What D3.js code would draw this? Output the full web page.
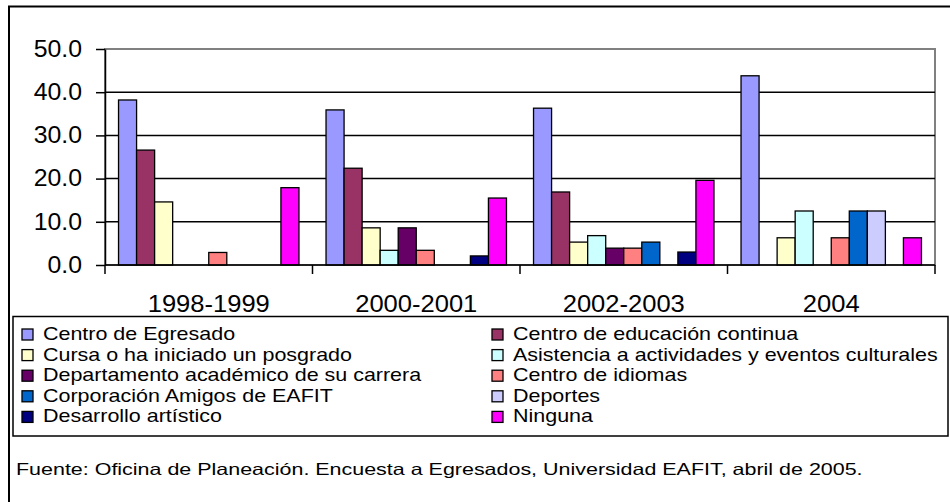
<!DOCTYPE html>
<html>
<head>
<meta charset="utf-8">
<script src="https://cdn.jsdelivr.net/npm/d3@7"></script>
<style>
  body { margin: 0; background: #fff; }
  svg { display: block; font-family: "Liberation Sans", Arial, sans-serif; }
</style>
</head>
<body>
<script>
// datos
const periodos = ['1998-1999', '2000-2001', '2002-2003', '2004']
const series = [
  'Centro de Egresado', 'Centro de educación continua',
  'Cursa o ha iniciado un posgrado', 'Asistencia a actividades y eventos culturales',
  'Departamento académico de su carrera', 'Centro de idiomas',
  'Corporación Amigos de EAFIT', 'Deportes',
  'Desarrollo artístico', 'Ninguna'
]
const colores = ['#9999FF', '#993366', '#FFFFCC', '#CCFFFF', '#660066',
  '#FF8080', '#0066CC', '#CCCCFF', '#000080', '#FF00FF']
// un array por periodo, en el orden de las series
const valores1998 = [38.2, 26.6, 14.6, 0, 0, 2.9, 0, 0, 0, 17.9]
const valores2000 = [35.9, 22.4, 8.6, 3.4, 8.6, 3.4, 0, 0, 2.1, 15.5]
const valores2002 = [36.3, 16.9, 5.3, 6.8, 3.9, 3.9, 5.3, 0, 3.0, 19.6]
const valores2004 = [43.8, 0, 6.3, 12.5, 0, 6.3, 12.5, 12.5, 0, 6.3]
const yTicks = [0, 10, 20, 30, 40, 50]
const fuente = 'Fuente: Oficina de Planeación. Encuesta a Egresados, Universidad EAFIT, abril de 2005.'

const tabla = [valores1998, valores2000, valores2002, valores2004]

const W = 950, H = 502
const plot = {l: 105, r: 935, t: 49, b: 265}

// el original esta algo estirado en horizontal
function estirar(sel, k) {
  sel.each(function() {
    const L = this.getComputedTextLength()
    d3.select(this).attr('textLength', L * k).attr('lengthAdjust', 'spacingAndGlyphs')
  })
}

const svg = d3.select('body').append('svg')
  .attr('width', W)
  .attr('height', H)

// borde del area del grafico
svg.append('rect')
  .attr('x', 9).attr('y', 6.5)
  .attr('width', 960).attr('height', 520)
  .attr('fill', '#fff')
  .attr('stroke', '#000').attr('stroke-width', 2)

const x0 = d3.scaleBand()
  .domain(periodos)
  .range([plot.l, plot.r])

const y = d3.scaleLinear()
  .domain([0, 50])
  .range([plot.b, plot.t])

// Excel: ancho de separacion 150%
const barW = x0.bandwidth() / (series.length + 1.5)
const x1 = d3.scaleBand()
  .domain(d3.range(series.length))
  .range([barW * 0.75, x0.bandwidth() - barW * 0.75])

// borde gris del area de trazado
svg.append('rect')
  .attr('x', plot.l).attr('y', plot.t)
  .attr('width', plot.r - plot.l).attr('height', plot.b - plot.t)
  .attr('fill', 'none')
  .attr('stroke', '#808080').attr('stroke-width', 2)

// lineas de division
svg.append('g')
  .selectAll('line')
  .data(yTicks.filter(d => d > 0 && d < 50))
  .join('line')
    .attr('x1', plot.l).attr('x2', plot.r)
    .attr('y1', d => y(d)).attr('y2', d => y(d))
    .attr('stroke', '#000').attr('stroke-width', 1.5)

// barras
const grupos = svg.append('g')
  .selectAll('g')
  .data(tabla)
  .join('g')
    .attr('transform', (d, i) => `translate(${x0(periodos[i])},0)`)

grupos.selectAll('rect')
  .data(d => d.map((v, j) => ({v, j})).filter(e => e.v > 0))
  .join('rect')
    .attr('x', e => x1(e.j))
    .attr('y', e => y(e.v))
    .attr('width', x1.bandwidth())
    .attr('height', e => y(0) - y(e.v))
    .attr('fill', e => colores[e.j])
    .attr('stroke', '#000')
    .attr('stroke-width', 1.3)

// eje y
const yAxis = svg.append('g')
  .attr('transform', `translate(${plot.l},0)`)
  .call(d3.axisLeft(y).tickValues(yTicks).tickFormat(d3.format('.1f')).tickSize(9).tickSizeOuter(0))
yAxis.select('.domain').attr('stroke-width', 1.5)
yAxis.selectAll('.tick line').attr('stroke-width', 1.5)
yAxis.selectAll('text')
  .attr('x', -23)
  .style('font-size', '23px')
  .style('font-family', '"Liberation Sans", Arial, sans-serif')
  .attr('fill', '#000')
  .call(estirar, 1.08)

// eje x
const xAxis = svg.append('g')
  .attr('transform', `translate(0,${plot.b})`)
xAxis.append('line')
  .attr('x1', plot.l).attr('x2', plot.r)
  .attr('stroke', '#000').attr('stroke-width', 1.5)
xAxis.selectAll('.sep')
  .data(periodos.map(p => x0(p)).concat([plot.r]))
  .join('line')
    .attr('class', 'sep')
    .attr('x1', d => d).attr('x2', d => d)
    .attr('y1', 0).attr('y2', 9)
    .attr('stroke', '#000').attr('stroke-width', 1.5)
xAxis.selectAll('text')
  .data(periodos)
  .join('text')
    .attr('x', d => x0(d) + x0.bandwidth() / 2)
    .attr('y', 47)
    .attr('text-anchor', 'middle')
    .style('font-size', '23px')
    .text(d => d)
    .call(estirar, 1.11)

// leyenda
svg.append('rect')
  .attr('x', 13).attr('y', 316.5)
  .attr('width', 935).attr('height', 119.5)
  .attr('fill', '#fff')
  .attr('stroke', '#000').attr('stroke-width', 1.5)

const leyenda = svg.append('g')
  .selectAll('g')
  .data(series)
  .join('g')
    .attr('transform', (d, i) => `translate(${i % 2 === 0 ? 22 : 492},${340 + Math.floor(i / 2) * 20.6})`)

leyenda.append('rect')
  .attr('x', 0).attr('y', -11)
  .attr('width', 11).attr('height', 11)
  .attr('fill', (d, i) => colores[i])
  .attr('stroke', '#000').attr('stroke-width', 1.3)

leyenda.append('text')
  .attr('x', 21)
  .attr('y', 0)
  .style('font-size', '18.5px')
  .text(d => d)
  .call(estirar, 1.16)

// nota de fuente
svg.append('text')
  .attr('x', 16)
  .attr('y', 475)
  .style('font-size', '16.5px')
  .text(fuente)
  .call(estirar, 1.3)
</script>
</body>
</html>
